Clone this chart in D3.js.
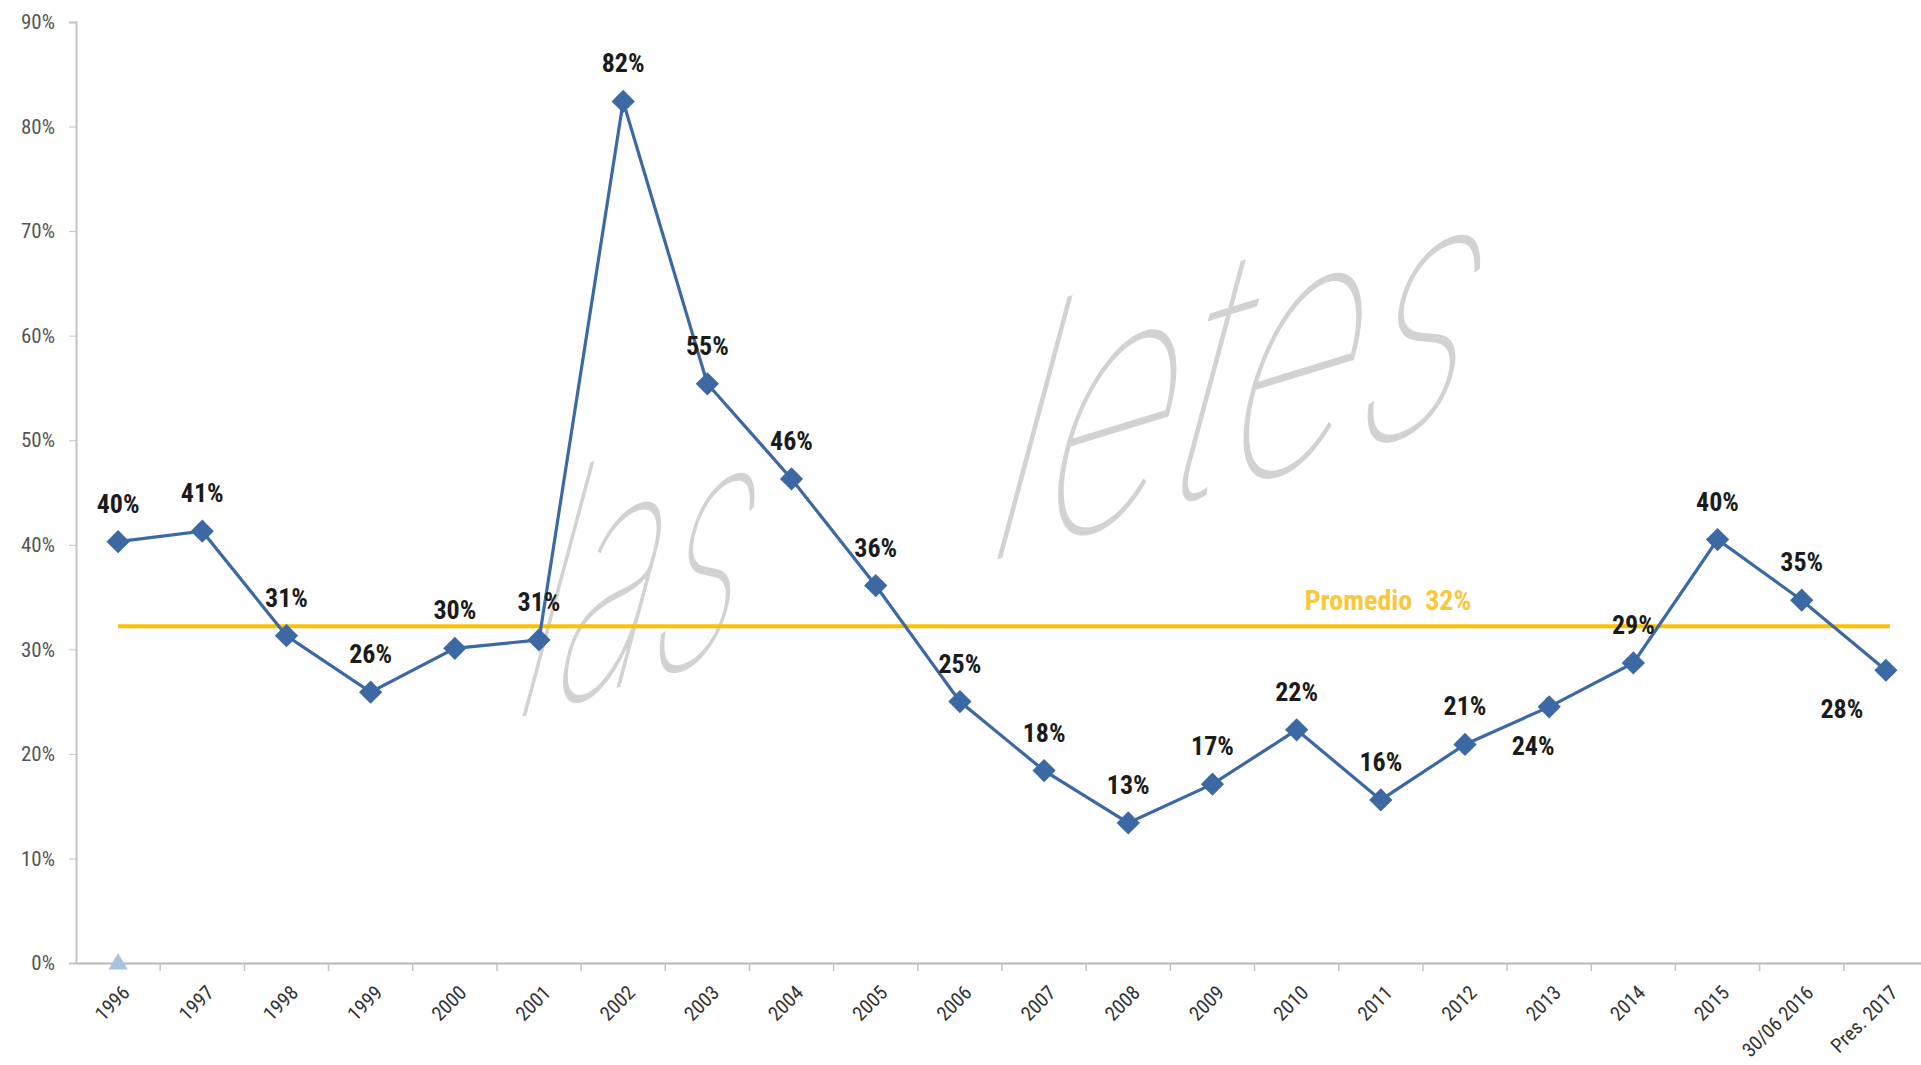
<!DOCTYPE html>
<html>
<head>
<meta charset="utf-8">
<script src="https://cdn.jsdelivr.net/npm/d3@7"></script>
<style>
  html, body { margin: 0; padding: 0; background: #fff; }
  svg { display: block; }
</style>
</head>
<body>
<svg id="chart" width="1921" height="1065"></svg>
<script>
// ---- data ----
const categories = ["1996","1997","1998","1999","2000","2001","2002","2003","2004","2005","2006","2007","2008","2009","2010","2011","2012","2013","2014","2015","30/06 2016","Pres. 2017"];
const values = [0.403,0.413,0.313,0.259,0.301,0.309,0.824,0.554,0.463,0.361,0.250,0.184,0.134,0.171,0.223,0.156,0.209,0.245,0.287,0.405,0.347,0.280];
const valueLabels = ["40%","41%","31%","26%","30%","31%","82%","55%","46%","36%","25%","18%","13%","17%","22%","16%","21%","24%","29%","40%","35%","28%"];
const labelPlacement = ["above","above","above","above","above","above","above","above","above","above","above","above","above","above","above","above","above","below-left","above","above","above","below-far-left"];
const secondSeries = [{category: "1996", value: 0}];
const average = 0.322;
const averageLabel = "Promedio  32%";
const yTicks = [0,0.1,0.2,0.3,0.4,0.5,0.6,0.7,0.8,0.9];
const watermarkWords = ["las", "letes"];

// ---- layout ----
const svg = d3.select("#chart");
const mLeft = 76, mRight = 1928, mTop = 22, mBottom = 963;
const narrow = "'Liberation Sans Narrow','Arial Narrow','Roboto Condensed','DejaVu Sans Condensed',sans-serif";

const x = d3.scaleBand().domain(categories).range([mLeft, mRight]).padding(0);
const y = d3.scaleLinear().domain([0, 0.9]).range([mBottom, mTop]);
const cx = c => x(c) + x.bandwidth() / 2;

// watermark (handwritten-like)
const wmPos = [[505, 722], [975, 566]];
const wmScale = [[0.78, 1.28], [1.0, 1.32]];
svg.selectAll(".wm").data(watermarkWords).enter().append("text")
  .attr("class", "wm")
  .attr("transform", (d, i) => `translate(${wmPos[i][0]},${wmPos[i][1]}) rotate(-17) skewX(-32) scale(${wmScale[i][0]},${wmScale[i][1]})`)
  .attr("font-family", "Inter, 'Noto Sans', sans-serif")
  .attr("font-weight", 100)
  .attr("font-size", 240)
  .attr("fill", "#d2d2d2")
  .text(d => d);

// y axis
const yAxis = d3.axisLeft(y).tickValues(yTicks).tickFormat(d3.format(".0%")).tickSize(7).tickPadding(14);
const gy = svg.append("g").attr("transform", `translate(${mLeft},0)`).call(yAxis);
gy.select(".domain").attr("stroke", "#c4c4c4").attr("stroke-width", 2);
gy.selectAll(".tick line").attr("stroke", "#c4c4c4");
gy.selectAll(".tick text")
  .attr("font-family", narrow).attr("font-size", 21).attr("fill", "#555");

// x axis
const xAxis = d3.axisBottom(x).tickSize(0).tickPadding(0);
const gx = svg.append("g").attr("transform", `translate(0,${mBottom})`).call(xAxis);
gx.select(".domain").attr("stroke", "#b8b8b8").attr("stroke-width", 2);
gx.selectAll(".tick text")
  .attr("font-family", narrow).attr("font-size", 20).attr("fill", "#333")
  .attr("text-anchor", "end")
  .attr("dy", null)
  .attr("transform", "translate(13,31) rotate(-45)");
// boundary ticks (between categories)
gx.selectAll(".btick").data(categories)
  .enter().append("line").attr("class", "btick")
  .attr("x1", d => x(d) + x.bandwidth())
  .attr("x2", d => x(d) + x.bandwidth())
  .attr("y1", 0).attr("y2", 8)
  .attr("stroke", "#c4c4c4").attr("stroke-width", 1.5);

// average line
svg.append("line")
  .attr("x1", cx(categories[0])).attr("x2", cx(categories[categories.length - 1]) + 4)
  .attr("y1", y(average)).attr("y2", y(average))
  .attr("stroke", "#FFC000").attr("stroke-width", 4);
svg.append("text")
  .attr("x", cx("2010") + 8).attr("y", y(average) - 16)
  .attr("text-anchor", "start")
  .attr("font-family", narrow).attr("font-weight", "bold").attr("font-size", 28)
  .attr("fill", "#F7C83A")
  .style("white-space", "pre")
  .text(averageLabel);

// main series line
const pts = categories.map((c, i) => ({c, v: values[i], lab: valueLabels[i], pos: labelPlacement[i]}));
svg.append("path")
  .datum(pts)
  .attr("fill", "none").attr("stroke", "#3C69A3").attr("stroke-width", 3.2)
  .attr("d", d3.line().x(d => cx(d.c)).y(d => y(d.v)));

svg.selectAll(".mk").data(pts).enter().append("path")
  .attr("class", "mk")
  .attr("transform", d => `translate(${cx(d.c)},${y(d.v)}) rotate(45)`)
  .attr("d", d3.symbol(d3.symbolSquare, 270)())
  .attr("fill", "#3C69A3");

// second series (triangle)
svg.selectAll(".tri").data(secondSeries).enter().append("path")
  .attr("transform", d => `translate(${cx(d.category)},${y(d.value) + 1})`)
  .attr("d", d3.symbol(d3.symbolTriangle, 160)())
  .attr("fill", "#A9C2E0");

// data labels
svg.selectAll(".lbl").data(pts).enter().append("text")
  .attr("class", "lbl")
  .attr("x", d => cx(d.c) + (d.pos === "below-left" ? -16 : d.pos === "below-far-left" ? -44 : 0))
  .attr("y", d => y(d.v) + (d.pos.startsWith("below") ? 48 : -29))
  .attr("text-anchor", "middle")
  .attr("font-family", narrow).attr("font-weight", "bold").attr("font-size", 26)
  .attr("fill", "#1b1b1b")
  .text(d => d.lab);
</script>
</body>
</html>
